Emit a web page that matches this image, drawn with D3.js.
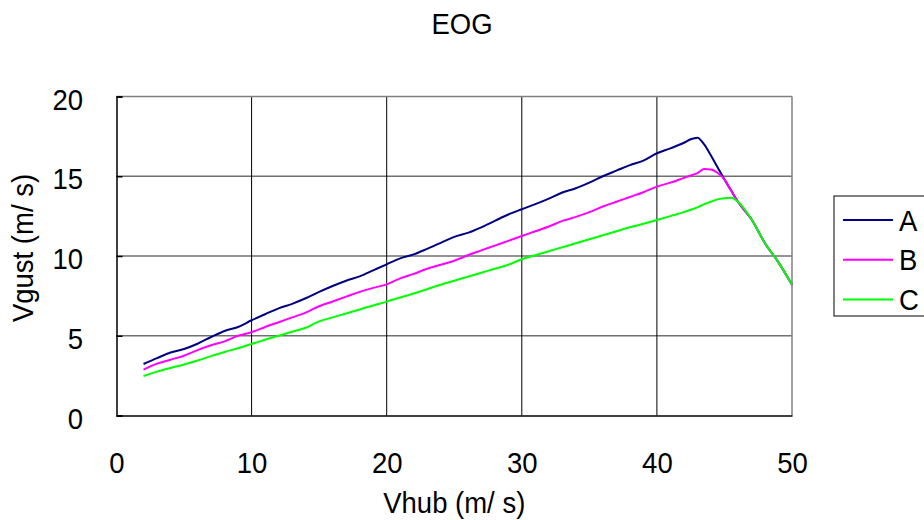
<!DOCTYPE html>
<html>
<head>
<meta charset="utf-8">
<script src="https://cdnjs.cloudflare.com/ajax/libs/d3/7.8.5/d3.min.js"></script>
<style>
  html, body { margin: 0; padding: 0; background: #fff; }
  svg { display: block; font-family: "Liberation Sans", Arial, sans-serif; }
</style>
</head>
<body>
<svg id="chart" width="924" height="520"></svg>
<script>
const chartTitle = "EOG";
const xTitle = "Vhub (m/ s)";
const yTitle = "Vgust (m/ s)";
const seriesNames = ["A", "B", "C"];
const xTicks = [0, 10, 20, 30, 40, 50];
const yTicks = [0, 5, 10, 15, 20];

const xs = [2,3,4,5,6,7,8,9,10,11,12,13,14,15,16,17,18,19,20,21,22,23,24,25,26,27,28,29,30,
  31,32,33,34,35,36,37,38,39,40,41,42,42.5,43,43.5,44,44.5,45,45.5,46,47,48,49,50];

const seriesA = [3.23,3.6,3.95,4.17,4.5,4.92,5.3,5.55,5.97,6.35,6.72,7.0,7.35,7.75,8.12,8.45,8.72,9.1,9.48,
  9.85,10.1,10.45,10.82,11.2,11.45,11.8,12.2,12.6,12.93,13.25,13.6,13.98,14.25,14.6,15.0,15.35,15.7,15.98,16.44,
  16.75,17.1,17.32,17.42,17.0,16.3,15.55,14.8,14.1,13.4,12.3,10.8,9.6,8.2];

const seriesB = [2.87,3.25,3.5,3.75,4.1,4.4,4.65,5.0,5.22,5.55,5.85,6.15,6.45,6.85,7.15,7.45,7.75,8.0,8.22,
  8.6,8.88,9.2,9.45,9.7,10.05,10.35,10.65,10.95,11.25,11.55,11.85,12.2,12.45,12.75,13.1,13.4,13.7,14.0,14.35,
  14.6,14.9,15.05,15.2,15.45,15.42,15.2,14.8,14.1,13.4,12.3,10.8,9.6,8.2];

const seriesC = [2.48,2.75,2.98,3.2,3.45,3.72,3.98,4.22,4.48,4.75,5.0,5.25,5.5,5.9,6.15,6.4,6.65,6.9,7.14,
  7.4,7.65,7.92,8.2,8.45,8.7,8.95,9.2,9.45,9.8,10.05,10.3,10.55,10.8,11.05,11.3,11.55,11.8,12.02,12.26,
  12.5,12.75,12.9,13.05,13.25,13.4,13.55,13.62,13.65,13.4,12.3,10.8,9.6,8.2];

const seriesValues = [seriesA, seriesB, seriesC];
const seriesColors = ["#000080", "#FF00FF", "#00FF00"];

(function () {
const svg = d3.select("#chart");
const pL = 116.5, pR = 792, pT = 96.5, pB = 415.5;
const fs = 27.5, sy = 1.08;

const x = d3.scaleLinear().domain([0, 50]).range([pL, pR]);
const y = d3.scaleLinear().domain([0, 20]).range([pB, pT]);

// Horizontal gridlines (gray)
svg.append("g").selectAll("line").data(yTicks.filter(d => d > 0 && d < 20)).join("line")
  .attr("x1", pL).attr("x2", pR)
  .attr("y1", d => y(d)).attr("y2", d => y(d))
  .attr("stroke", "#707070").attr("stroke-width", 1.5);

// Vertical gridlines (black)
svg.append("g").selectAll("line").data(xTicks.filter(d => d > 0 && d < 50)).join("line")
  .attr("x1", d => x(d)).attr("x2", d => x(d))
  .attr("y1", pT).attr("y2", pB)
  .attr("stroke", "#000").attr("stroke-width", 1);

// Border: top & right gray
svg.append("line").attr("x1", pL).attr("x2", pR).attr("y1", pT).attr("y2", pT)
  .attr("stroke", "#808080").attr("stroke-width", 1.5);
svg.append("line").attr("x1", pR).attr("x2", pR).attr("y1", pT).attr("y2", pB)
  .attr("stroke", "#808080").attr("stroke-width", 1.5);

// Left axis
const yAxis = d3.axisLeft(y).tickValues(yTicks).tickSize(-6).tickFormat(d => d);
const gy = svg.append("g").attr("transform", `translate(${pL},0)`).call(yAxis);
gy.select(".domain").attr("stroke", "#000").attr("stroke-width", 1.5);
gy.selectAll(".tick line").attr("stroke", "#000").attr("stroke-width", 1.5);
gy.selectAll(".tick text")
  .attr("x", null).attr("y", null).attr("dy", null)
  .attr("text-anchor", "end")
  .attr("transform", `translate(${83 - pL},12.5) scale(1,${sy})`)
  .attr("font-size", fs).attr("fill", "#000")
  .attr("font-family", "Liberation Sans, Arial, sans-serif");

// Bottom axis
const xAxis = d3.axisBottom(x).tickValues(xTicks).tickSize(0).tickFormat(d => d);
const gx = svg.append("g").attr("transform", `translate(0,${pB})`).call(xAxis);
gx.select(".domain").attr("stroke", "#000").attr("stroke-width", 1.5);
gx.selectAll(".tick text")
  .attr("x", null).attr("y", null).attr("dy", null)
  .attr("text-anchor", "middle")
  .attr("transform", `translate(0,${473 - pB}) scale(1,${sy})`)
  .attr("font-size", fs).attr("fill", "#000")
  .attr("font-family", "Liberation Sans, Arial, sans-serif");

// Lines
const line = d3.line().x((d, i) => x(xs[i])).y(d => y(d)).curve(d3.curveMonotoneX);
svg.append("g").selectAll("path").data(seriesValues).join("path")
  .attr("d", d => line(d))
  .attr("fill", "none")
  .attr("stroke", (d, i) => seriesColors[i])
  .attr("stroke-width", 2)
  .attr("stroke-linejoin", "round");

// Titles
function label(tx, ty, rot, txt) {
  svg.append("text")
    .attr("transform", `translate(${tx},${ty}) rotate(${rot}) scale(1,${sy})`)
    .attr("text-anchor", "middle").attr("font-size", fs).attr("fill", "#000").text(txt);
}
label(462, 34, 0, chartTitle);
label((pL + pR) / 2, 513, 0, xTitle);
label(33, 248, -90, yTitle);

// Legend
const lg = svg.append("g");
lg.append("rect").attr("x", 834).attr("y", 196).attr("width", 100).attr("height", 120)
  .attr("fill", "#fff").attr("stroke", "#000").attr("stroke-width", 1);
const rows = lg.selectAll("g.row").data(seriesNames).join("g").attr("class", "row")
  .attr("transform", (d, i) => `translate(0,${220 + i * 39.7})`);
rows.append("line").attr("x1", 843).attr("x2", 893).attr("y1", 0).attr("y2", 0)
  .attr("stroke", (d, i) => seriesColors[i]).attr("stroke-width", 2);
rows.append("text")
  .attr("transform", `translate(899,10.5) scale(1,${sy})`)
  .attr("font-size", fs).text(d => d);
})();
</script>
</body>
</html>
